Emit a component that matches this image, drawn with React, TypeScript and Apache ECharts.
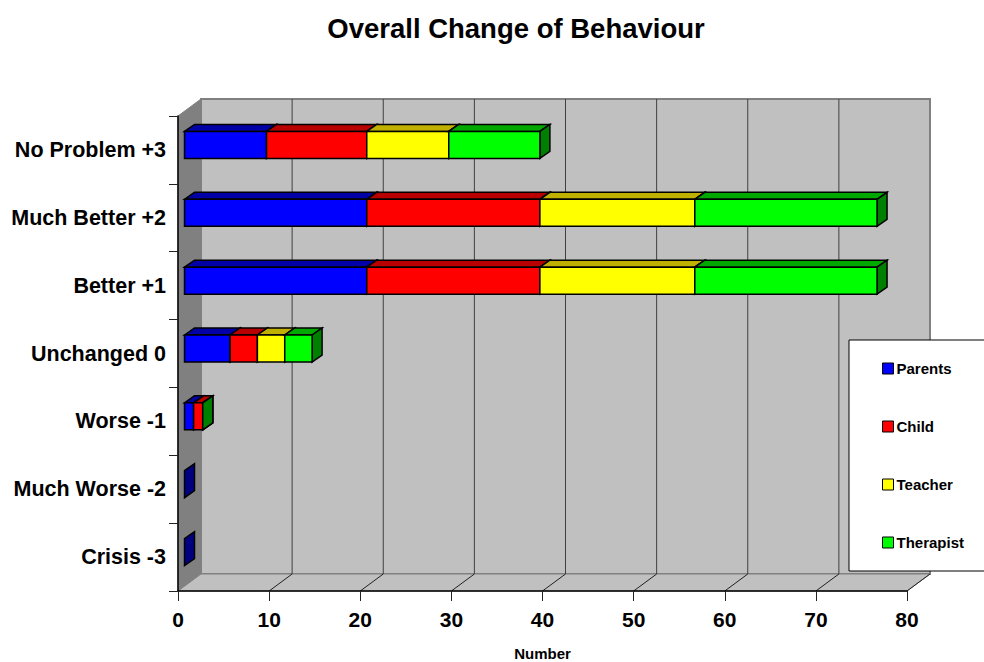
import React, { useEffect, useRef } from "react";
import * as echarts from "echarts";

const categories = ["Crisis -3", "Much Worse -2", "Worse -1", "Unchanged 0", "Better +1", "Much Better +2", "No Problem +3"];
const parents = [0, 0, 1, 5, 20, 20, 9];
const child = [null, null, 1, 3, 19, 19, 11];
const teacher = [null, null, 0, 3, 17, 17, 9];
const therapist = [null, null, 0, 3, 20, 20, 10];
const xTicks = [0, 10, 20, 30, 40, 50, 60, 70, 80];

const seriesDefs = [
  { name: "Parents", values: parents, front: "#0000ff", top: "#0000a6", side: "#000080" },
  { name: "Child", values: child, front: "#ff0000", top: "#b80000", side: "#800000" },
  { name: "Teacher", values: teacher, front: "#ffff00", top: "#c0b000", side: "#808000" },
  { name: "Therapist", values: therapist, front: "#00ff00", top: "#00a800", side: "#008000" },
];

const WALL_DX = 23, WALL_DY = -17;
const BAR_START_DX = 6, BAR_START_DY = -5;
const BAR_DX = 10, BAR_DY = -7, BAR_H = 27;

function stacked(values: (number | null)[], idx: number) {
  return values.map((v, c) => {
    if (v === null) return null;
    let s = 0;
    for (let j = 0; j < idx; j++) s += (seriesDefs[j].values[c] as number) || 0;
    return [s, s + v, c];
  }).filter(Boolean);
}

const poly = (points: number[][], fill: string, stroke: string, lineWidth = 1) => ({
  type: "polygon",
  shape: { points },
  style: { fill, stroke, lineWidth },
});
const line = (a: number[], b: number[], stroke: string, lineWidth = 1) => ({
  type: "line",
  shape: { x1: a[0], y1: a[1], x2: b[0], y2: b[1] },
  style: { stroke, lineWidth, fill: "none" },
});

function renderWalls(_p: any, api: any) {
  const bl = api.coord([0, 0]);
  const band = api.size([0, 1])[1];
  const bottom = bl[1] + band / 2;
  const top = bottom - band * categories.length;
  const l = bl[0];
  const r = api.coord([80, 0])[0];
  const children: any[] = [
    poly([[l, top], [l + WALL_DX, top + WALL_DY], [l + WALL_DX, bottom + WALL_DY], [l, bottom]], "#808080", "#808080"),
    poly([[l + WALL_DX, top + WALL_DY], [r + WALL_DX, top + WALL_DY], [r + WALL_DX, bottom + WALL_DY], [l + WALL_DX, bottom + WALL_DY]], "#c0c0c0", "#808080", 2),
    poly([[l, bottom], [l + WALL_DX, bottom + WALL_DY], [r + WALL_DX, bottom + WALL_DY], [r, bottom]], "#c0c0c0", "#808080", 1),
  ];
  xTicks.slice(1).forEach((t) => {
    const x = api.coord([t, 0])[0];
    if (t < 80) children.push(line([x + WALL_DX, top + WALL_DY], [x + WALL_DX, bottom + WALL_DY], "#404040"));
    children.push(line([x, bottom], [x + WALL_DX, bottom + WALL_DY], "#202020"));
  });
  return { type: "group", children };
}

function makeRender(def: any) {
  return (_p: any, api: any) => {
    const a = api.coord([api.value(0), api.value(2)]);
    const b = api.coord([api.value(1), api.value(2)]);
    const x0 = a[0] + BAR_START_DX + 0.5, x1 = b[0] + BAR_START_DX + 0.5;
    const y0 = a[1] + BAR_START_DY - BAR_H / 2, y1 = y0 + BAR_H;
    const children: any[] = [];
    if (x1 > x0) {
      children.push(poly([[x0, y0], [x0 + BAR_DX, y0 + BAR_DY], [x1 + BAR_DX, y0 + BAR_DY], [x1, y0]], def.top, "#000", 1.5));
    }
    children.push(poly([[x1, y0], [x1 + BAR_DX, y0 + BAR_DY], [x1 + BAR_DX, y1 + BAR_DY], [x1, y1]], def.side, "#000", 1.5));
    if (x1 > x0) {
      children.push(poly([[x0, y0], [x1, y0], [x1, y1], [x0, y1]], def.front, "#000", 1.5));
    }
    return { type: "group", children };
  };
}

const FONT = "Liberation Sans";

export default function App() {
  const ref = useRef<HTMLDivElement>(null);
  useEffect(() => {
    document.body.style.margin = "0";
    const chart = echarts.init(ref.current!, undefined, { renderer: "svg" });
    chart.setOption({
      animation: false,
      backgroundColor: "#ffffff",
      textStyle: { fontFamily: FONT },
      title: {
        text: "Overall Change of Behaviour",
        left: 511,
        top: 9,
        textAlign: "center",
        textStyle: { fontFamily: FONT, fontSize: 27.5, fontWeight: "bold", color: "#000" },
      },
      grid: { left: 178, right: 77, top: 116, bottom: 71, outerBoundsMode: "none" },
      xAxis: {
        type: "value",
        min: 0,
        max: 80,
        interval: 10,
        z: 5,
        name: "Number",
        nameLocation: "middle",
        nameGap: 55,
        nameTextStyle: { fontFamily: FONT, fontSize: 15, fontWeight: "bold", color: "#000" },
        axisLine: { show: true, lineStyle: { color: "#000", width: 1.5 } },
        axisTick: { show: true, length: 10, lineStyle: { color: "#222" } },
        axisLabel: { fontFamily: FONT, fontSize: 21, fontWeight: "bold", color: "#000", margin: 18 },
        splitLine: { show: false },
      },
      yAxis: {
        type: "category",
        data: categories,
        z: 5,
        axisLine: { show: true, lineStyle: { color: "#000", width: 1.5 } },
        axisTick: { show: true, length: 9, lineStyle: { color: "#222" } },
        axisLabel: { fontFamily: FONT, fontSize: 21.5, fontWeight: "bold", color: "#000", margin: 12 },
        splitLine: { show: false },
      },
      legend: {
        show: true,
        orient: "vertical",
        left: 849,
        top: 340,
        padding: [21, 40, 21, 33],
        data: seriesDefs.map((d) => d.name),
        icon: "rect",
        itemWidth: 11,
        itemHeight: 11,
        itemGap: 43,
        backgroundColor: "#fff",
        borderColor: "#000",
        borderWidth: 1,
        itemStyle: { borderColor: "#000", borderWidth: 1 },
        textStyle: { fontFamily: FONT, fontSize: 15, fontWeight: "bold", color: "#000", padding: [0, 0, 0, -2] },
      },
      series: [
        { type: "custom", name: "walls", silent: true, z: 1, clip: false, data: [[0, 0]], renderItem: renderWalls, encode: { x: 0, y: 1 } },
        ...seriesDefs.map((d, i) => ({
          type: "custom",
          name: d.name,
          z: 2 + i,
          clip: false,
          itemStyle: { color: d.front },
          data: stacked(d.values, i),
          encode: { x: [0, 1], y: 2 },
          renderItem: makeRender(d),
        })),
      ],
    });
    return () => chart.dispose();
  }, []);
  return <div ref={ref} style={{ width: 984, height: 662 }} />;
}
